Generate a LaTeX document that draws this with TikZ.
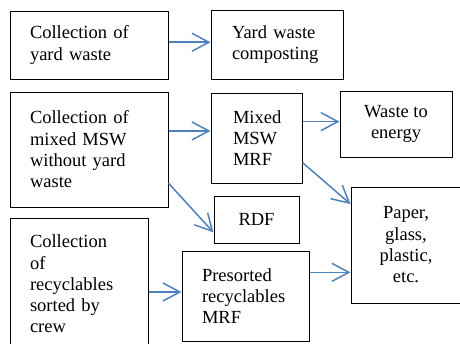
\documentclass[tikz,border=0pt]{standalone}
\usepackage{fontspec}
\setmainfont{LiberationSerif}[Extension=.ttf, UprightFont=*-Regular, BoldFont=*-Bold]
\usetikzlibrary{arrows.meta,calc}
\definecolor{arrowblue}{RGB}{79,129,189}
\begin{document}
\begin{tikzpicture}[x=1pt,y=-1pt,
  box/.style={draw=black, line width=1pt, inner sep=0pt, font=\fontsize{18.5}{21.3}\selectfont},
  lbox/.style={box, align=left},
  cbox/.style={box, align=center},
  arr/.style={draw=arrowblue, line width=1.5pt, -{Straight Barb[length=17pt,width=18pt]}}]
\useasboundingbox (0,0) rectangle (460,343);
\clip (0,0) rectangle (460,343);
\fill[white] (0,0) rectangle (460,343);
% boxes
\node[lbox, text width=118pt, minimum width=158pt, minimum height=68pt] (A) at (89,45) {Collection of\\yard waste};
\node[lbox, text width=90pt, minimum width=132pt, minimum height=69pt] (B) at (277,44.5) {Yard waste\\composting};
\node[lbox, text width=118pt, minimum width=158pt, minimum height=115pt] (C) at (89,149.5) {Collection of\\mixed MSW\\without yard\\waste};
\node[lbox, text width=47pt, minimum width=91pt, minimum height=90pt] (D) at (256.5,138) {Mixed\\MSW\\MRF};
\node[cbox, minimum width=112pt, minimum height=66pt] (E) at (396,124) {Waste to\\energy};
\node[cbox, minimum width=85pt, minimum height=47pt] (F) at (256.5,219.5) {RDF};
\node[lbox, text width=98pt, minimum width=138pt, minimum height=132pt] (G) at (79,284) {Collection\\of\\recyclables\\sorted by\\crew};
\node[lbox, text width=87pt, minimum width=127pt, minimum height=90pt] (H) at (245.5,296) {Presorted\\recyclables\\MRF};
\node[cbox, minimum width=110pt, minimum height=116pt] (I) at (406,245) {Paper,\\glass,\\plastic,\\etc.};
% connectors
\coordinate (a1) at ($(A.north east)!0.46!(A.south east)$);
\draw[arr] (a1) -- (a1 -| B.west);
\coordinate (c1) at ($(C.north east)!0.34!(C.south east)$);
\draw[arr] (c1) -- (c1 -| D.west);
\coordinate (d1) at ($(D.north east)!0.32!(D.south east)$);
\draw[arr] (d1) -- (d1 -| E.west);
\coordinate (d2) at ($(D.north east)!0.77!(D.south east)$);
\coordinate (i1) at ($(I.north west)!0.15!(I.south west)$);
\draw[arr] (d2) -- (i1);
\coordinate (c2) at ($(C.north east)!0.79!(C.south east)$);
\coordinate (f1) at ($(F.north west)!0.77!(F.south west)$);
\draw[arr] (c2) -- (f1);
\coordinate (h1) at ($(H.north east)!0.24!(H.south east)$);
\draw[arr] (h1) -- (h1 -| I.west);
\coordinate (g1) at ($(G.north east)!0.56!(G.south east)$);
\draw[arr] (g1) -- (g1 -| H.west);
\end{tikzpicture}
\end{document}
